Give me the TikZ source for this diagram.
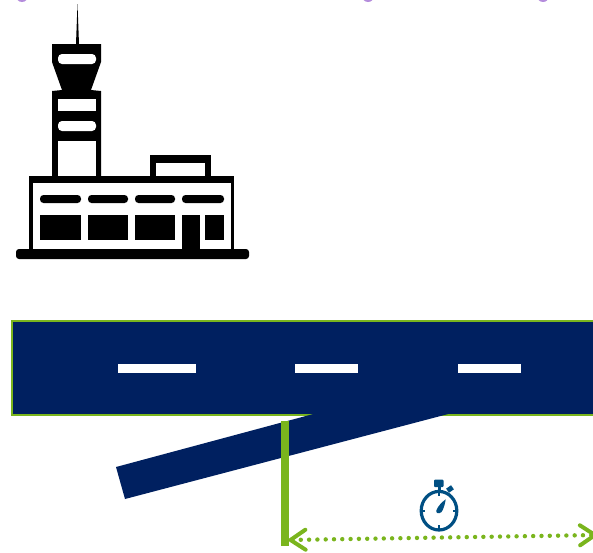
\documentclass[tikz,border=0pt]{standalone}
\usepackage{xcolor}
\usetikzlibrary{arrows.meta}
\definecolor{runwayblue}{HTML}{002060}
\definecolor{markgreen}{HTML}{7AB51D}
\definecolor{watchblue}{HTML}{004F83}
\definecolor{sliverpurple}{HTML}{B48CDC}
\tikzset{
  towerblack/.style={fill=black,draw=none},
  cutout/.style={fill=white,draw=none},
  dimline/.style={draw=markgreen,line width=4.4pt,line cap=round,dash pattern=on 0pt off 8.3pt,
    {Straight Barb[length=15pt,width=20pt,round,line width=4pt]}-{Straight Barb[length=15pt,width=20pt,round,line width=4pt]}}
}
\begin{document}
\begin{tikzpicture}[x=1pt,y=-1pt]
            \useasboundingbox (0,0) rectangle (593,552);
            % Cut-off marks at the top edge
            \clip (0,0) rectangle (593,552);
            \fill[sliverpurple] (22,-4) circle (6);
            \fill[sliverpurple] (368,-4) circle (6);
            \fill[sliverpurple] (543,-4) circle (6);

            % Tower
            \fill[towerblack] (76,44) -- (77.5,4) -- (79,44) -- cycle;
            \fill[towerblack] (52,44) -- (101,44) -- (101,62) -- (91,90) -- (101,91) -- (101,178)
              -- (52,178) -- (52,91) -- (62,90) -- (52,62) -- cycle;
            \fill[cutout,rounded corners=4pt] (58,54) rectangle (96,64);
            \fill[cutout] (58,99) rectangle (96,111);
            \fill[cutout,rounded corners=4pt] (58,121) rectangle (96,131);
            \fill[cutout] (58,141) rectangle (96,176);

            % Annex on the roof
            \fill[towerblack] (150,155) rectangle (211,178);
            \fill[cutout] (156,163) rectangle (205,176);

            % Building
            \fill[towerblack] (29,176) rectangle (234,252);
            \fill[cutout] (33,183) rectangle (231,250);
            \fill[towerblack,rounded corners=3pt] (16,249) rectangle (249,259);
            \foreach \xa/\xb in {40/81,88/128,135/175,182/224} {
              \fill[towerblack,rounded corners=3.5pt] (\xa,195) rectangle (\xb,203);
            }
            \foreach \xa/\xb in {40/81,88/128,135/175,205/224} {
              \fill[towerblack] (\xa,215) rectangle (\xb,240);
            }
            \fill[towerblack] (182,215) rectangle (200,250);

            % Runway
            \filldraw[fill=runwayblue,draw=markgreen,line width=1.6pt] (12,321) rectangle (600,415);
            \fill[runwayblue] (116,467) -- (317,413) -- (452,413) -- (125,499) -- cycle;
            \foreach \xa/\xb in {118/196,295/358,458/521} {
              \fill[white] (\xa,364) rectangle (\xb,373);
            }

            % Distance marker
            \fill[markgreen] (281,421) rectangle (288.5,546);
            \coordinate (markfoot) at (288.5,540);
            \coordinate (markend) at (597,535);
            \path[dimline] (markfoot) -- (markend);

            % Stopwatch
            \draw[watchblue,line width=3.2pt] (439,510.7) ellipse (17.8 and 19.3);
            \fill[watchblue,rounded corners=1pt] (434,479.5) rectangle (443.5,487);
            \fill[watchblue] (437.5,486) rectangle (440.5,491);
            \fill[watchblue,rotate around={35:(450,489)}] (447,486.5) rectangle (453,491.5);
            \fill[watchblue] (438,491) rectangle (440,496);
            \fill[watchblue] (438,525) rectangle (440,530);
            \fill[watchblue] (420,509.7) rectangle (425,511.7);
            \fill[watchblue] (453,509.7) rectangle (458,511.7);
            \fill[watchblue] (445.7,499.3) .. controls (445,505) and (443,510) .. (441.5,512)
              .. controls (439,514.5) and (435,513) .. (436.5,510)
              .. controls (438,506) and (442,502) .. cycle;
        \end{tikzpicture}
\end{document}
